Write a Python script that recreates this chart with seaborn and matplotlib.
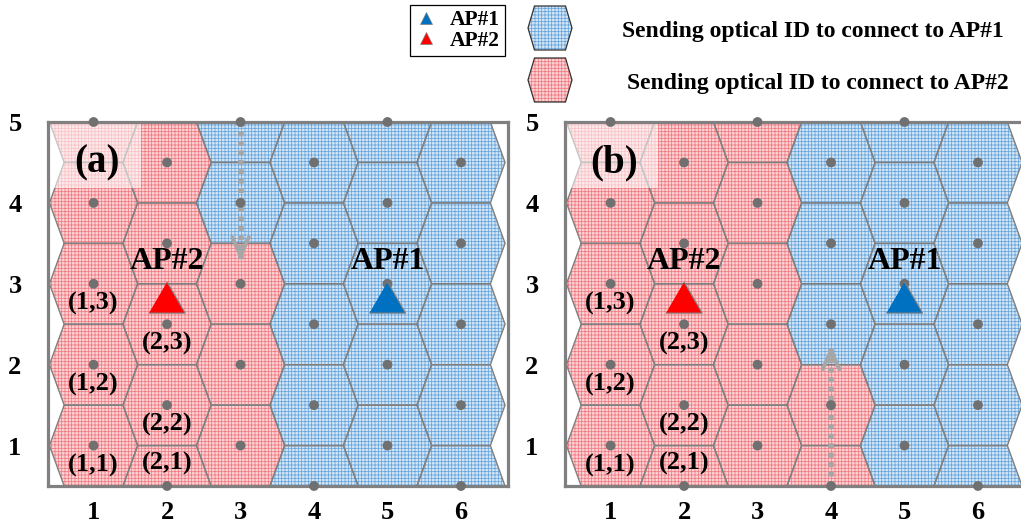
import matplotlib
matplotlib.use("Agg")
import matplotlib.pyplot as plt
from matplotlib.patches import Polygon, Rectangle
from matplotlib.lines import Line2D
import numpy as np
import pandas as pd
import seaborn as sns

# ---- grid of optical cells -------------------------------------------------
columns = [1, 2, 3, 4, 5, 6]
odd_rows = [1, 2, 3, 4, 5]          # centres of cells in columns 1, 3, 5
even_rows = [0.5, 1.5, 2.5, 3.5, 4.5]  # centres of cells in columns 2, 4, 6

# cells that send their optical ID to AP#2 (every other cell goes to AP#1)
ap2_cells_a = ([(1, r) for r in odd_rows] + [(2, r) for r in even_rows]
               + [(3, 1), (3, 2), (3, 3)])
ap2_cells_b = ([(1, r) for r in odd_rows] + [(2, r) for r in even_rows]
               + [(3, r) for r in odd_rows] + [(4, 0.5), (4, 1.5)])

# access points
ap_names = ["AP#1", "AP#2"]
ap_x = [5, 2]
ap_y = [2.83, 2.83]

# indexed cells
cell_labels = ["(1,1)", "(1,2)", "(1,3)", "(2,1)", "(2,2)", "(2,3)"]
cell_col = [1, 1, 1, 2, 2, 2]
cell_row = [1, 2, 3, 1, 2, 3]

# user movement (start, end) in each panel
move_a = [(3, 5.0), (3, 3.29)]
move_b = [(4, 0.5), (4, 2.23)]

panel_tags = ["(a)", "(b)"]
x_ticks = [1, 2, 3, 4, 5, 6]
y_ticks = [1, 2, 3, 4, 5]

# ---- styling ---------------------------------------------------------------
# (background, mesh line colour) for each access point's cells
RED_FILL = ("#fbd3d5", "#f07a81")
BLUE_FILL = ("#d3e6f6", "#67a4db")
AP_COLORS = {"AP#1": "#0070c0", "AP#2": "#ff0000"}
EDGE = "#808080"
DOT = "#707070"
PATH = "#a6a6a6"
HATCH = "+++++"
HALF_W, HALF_TOP = 0.6, 0.4   # hexagon half-width and half top edge (data units)

sns.set_theme(style="white")
plt.rcParams["font.family"] = ["Liberation Serif", "DejaVu Serif"]
plt.rcParams["font.weight"] = "bold"
plt.rcParams["text.color"] = "black"
plt.rcParams["xtick.color"] = "black"
plt.rcParams["ytick.color"] = "black"
plt.rcParams["hatch.linewidth"] = 0.55

W, H = 1021, 529
fig = plt.figure(figsize=(W / 100, H / 100), dpi=100)


def hexagon(cx, cy, hw=HALF_W, ht=HALF_TOP, hh=0.5):
    return [(cx - hw, cy), (cx - ht, cy + hh), (cx + ht, cy + hh),
            (cx + hw, cy), (cx + ht, cy - hh), (cx - ht, cy - hh)]


def mesh_patch(verts, fill, **kw):
    bg, mesh = fill
    return Polygon(verts, closed=True, fc=bg, ec=mesh, lw=0, hatch=HATCH, **kw)


centres = pd.DataFrame(
    [(c, r) for c in columns for r in (odd_rows if c % 2 else even_rows)],
    columns=["x", "y"])
aps = pd.DataFrame({"name": ap_names, "x": ap_x, "y": ap_y})
tri = [(-1, -0.86), (1, -0.86), (0, 0.86)]


def draw_panel(ax, ap2_cells, tag, move):
    for cx, cy in centres.itertuples(index=False):
        verts = hexagon(cx, cy)
        fill = RED_FILL if (cx, cy) in ap2_cells else BLUE_FILL
        ax.add_patch(mesh_patch(verts, fill, zorder=1))
        ax.add_patch(Polygon(verts, closed=True, fill=False, ec=EDGE,
                             lw=1.0, zorder=2))

    # faded corner behind the panel tag
    ax.add_patch(Rectangle((0.38, 4.19), 1.26, 0.81, fc="white", ec="none",
                           alpha=0.55, zorder=3))
    ax.text(1.05, 4.5, tag, ha="center", va="center", fontsize=28,
            fontweight="bold", zorder=8)

    sns.scatterplot(data=centres, x="x", y="y", color=DOT, s=50,
                    edgecolor="none", ax=ax, zorder=6, clip_on=False,
                    legend=False)

    # movement path
    (x0, y0), (x1, y1) = move
    ax.plot([x0, x1], [y0, y1], ls=(0, (0.9, 0.8)), lw=4.0, color=PATH,
            zorder=5, solid_capstyle="butt")
    step = 0.12 if y1 < y0 else -0.12
    ax.annotate("", xy=(x1, y1), xytext=(x1, y1 + step),
                arrowprops=dict(arrowstyle="->,head_length=1.1,head_width=0.5",
                                lw=2.8, color=PATH, shrinkA=0, shrinkB=0),
                zorder=5)

    sns.scatterplot(data=aps, x="x", y="y", hue="name", palette=AP_COLORS,
                    marker=tri, s=680, edgecolor=EDGE, linewidth=0.8,
                    ax=ax, zorder=7, legend=False)
    for name, x, y in zip(ap_names, ap_x, ap_y):
        ax.text(x, y + 0.44, name, ha="center", va="center", fontsize=23,
                fontweight="bold", zorder=8)

    for lab, c, r in zip(cell_labels, cell_col, cell_row):
        cy = r if c % 2 else r - 0.5
        dy = -0.24 if cy - 0.24 > 0.6 else 0.28
        ax.text(c, cy + dy, lab, ha="center", va="center", fontsize=19,
                fontweight="bold", zorder=8)

    ax.set_xlim(0.38, 6.64)
    ax.set_ylim(0.5, 5.0)
    ax.set_xticks(x_ticks)
    ax.set_yticks(y_ticks)
    ax.set_xlabel("")
    ax.set_ylabel("")
    ax.tick_params(length=0, labelsize=19, labelcolor="black")
    ax.tick_params(axis="x", pad=11)
    ax.tick_params(axis="y", pad=19)
    for lbl in ax.get_xticklabels() + ax.get_yticklabels():
        lbl.set_fontweight("bold")
    for sp in ax.spines.values():
        sp.set_color(EDGE)
        sp.set_linewidth(2.3)
        sp.set_zorder(4)


ax_h = 364 / H
ax_w = 460 / W
ax_a = fig.add_axes([48 / W, 43 / H, ax_w, ax_h])
ax_b = fig.add_axes([565 / W, 43 / H, ax_w, ax_h])
draw_panel(ax_a, ap2_cells_a, panel_tags[0], move_a)
draw_panel(ax_b, ap2_cells_b, panel_tags[1], move_b)

# ---- legends ---------------------------------------------------------------
handles = [Line2D([], [], marker="^", ls="none", color=AP_COLORS[n],
                  markeredgecolor=EDGE, markeredgewidth=0.5, markersize=9)
           for n in ap_names]
leg = fig.legend(handles, ap_names, loc="upper left",
                 bbox_to_anchor=(410 / W, 1 - 5 / H), frameon=True,
                 fancybox=False, edgecolor="black", framealpha=1,
                 prop=dict(family="Liberation Serif", weight="bold", size=15.5),
                 handlelength=1.0, handletextpad=0.6, borderpad=0.25,
                 labelspacing=0.0, borderaxespad=0)
leg.get_frame().set_linewidth(0.9)
for t in leg.get_texts():
    t.set_color("black")

lax = fig.add_axes([0, 0, 1, 1], zorder=10)
lax.set_xlim(0, W)
lax.set_ylim(H, 0)
lax.axis("off")
legend_items = [(BLUE_FILL, "Sending optical ID to connect to AP#1", 28, 622),
                (RED_FILL, "Sending optical ID to connect to AP#2", 80, 627)]
for fill, text, yc, tx in legend_items:
    verts = hexagon(550, yc, hw=22, ht=15.5, hh=22)
    lax.add_patch(mesh_patch(verts, fill))
    lax.add_patch(Polygon(verts, closed=True, fill=False, ec="#333333", lw=0.9))
    lax.text(tx, yc + 4, text, ha="left", va="center", fontsize=17,
             fontweight="bold")

fig.savefig("out.png", dpi=100)
